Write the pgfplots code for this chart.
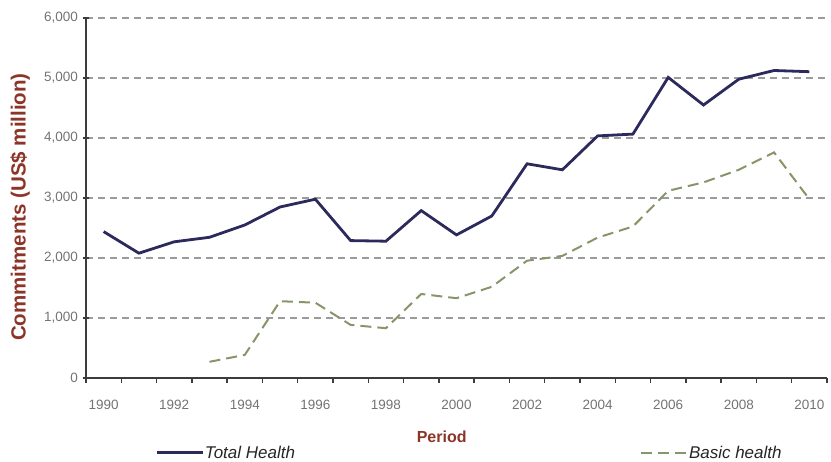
\documentclass[border=0pt]{standalone}
\usepackage{pgfplots}
\pgfplotsset{compat=1.18}
\usepackage{fontspec}
\setmainfont{Liberation Sans}

\definecolor{totalcol}{RGB}{44,42,92}
\definecolor{basiccol}{RGB}{135,150,105}
\definecolor{labelcol}{RGB}{140,52,40}
\definecolor{tickcol}{RGB}{115,115,115}
\definecolor{gridcol}{RGB}{155,155,155}
\definecolor{axiscol}{RGB}{60,60,60}

\begin{document}
\begin{tikzpicture}
\path[use as bounding box] (-86pt,-84pt) rectangle (745pt,378pt);
\begin{axis}[
  at={(0pt,0pt)}, anchor=south west,
  scale only axis, width=741pt, height=360pt,
  xmin=1989.5, xmax=2010.5, ymin=0, ymax=6000,
  axis x line*=bottom, axis y line*=left,
  axis line style={axiscol, line width=2pt},
  xtick={1990,1992,...,2010},
  minor xtick={1989.5,1990.5,...,2010.5},
  major x tick style={draw=none},
  minor x tick style={axiscol, line width=1.5pt},
  minor tick length=5pt,
  xtick align=outside,
  ytick={0,1000,...,6000},
  ytick align=center,
  major tick length=7pt,
  y tick style={axiscol, line width=1.5pt},
  ymajorgrids,
  grid style={gridcol, line width=1.6pt, dash pattern=on 7pt off 5pt},
  /pgf/number format/.cd, 1000 sep={,}, assume math mode=true, /pgfplots/.cd,
  xticklabel={\pgfmathprintnumber[1000 sep={}]{\tick}},
  tick label style={font=\fontsize{13.5}{16}\selectfont, text=tickcol},
  xticklabel style={yshift=-12pt},
  yticklabel style={xshift=-1pt},
  xlabel={Period},
  xlabel style={at={(rel axis cs:0.48,-0.164)}, anchor=center,
    font=\fontsize{16}{18}\selectfont\bfseries, text=labelcol},
  ylabel={Commitments (US\$ million)},
  ylabel style={at={(rel axis cs:-0.089,0.475)}, anchor=center,
    font=\fontsize{20.5}{23}\selectfont\bfseries, text=labelcol},
  legend columns=2,
  legend style={at={(rel axis cs:0.093,-0.208)}, anchor=west, draw=none,
    fill=none, inner sep=0pt,
    font=\fontsize{17}{20}\selectfont\itshape, text=black!85,
    nodes={inner sep=1pt},
    /tikz/every even column/.append style={column sep=344pt}},
  legend image code/.code={\draw[#1] (0pt,0pt) -- (46pt,0pt);},
]
\addplot[totalcol, line width=2.8pt] coordinates {
  (1990,2440) (1991,2080) (1992,2270) (1993,2345) (1994,2550)
  (1995,2850) (1996,2980) (1997,2290) (1998,2280) (1999,2790)
  (2000,2385) (2001,2700) (2002,3570) (2003,3470) (2004,4035)
  (2005,4065) (2006,5010) (2007,4550) (2008,4980) (2009,5125)
  (2010,5105)
};
\addlegendentry{Total Health}
\addplot[basiccol, line width=2pt, dash pattern=on 11pt off 6pt] coordinates {
  (1993,270) (1994,385) (1995,1280) (1996,1255) (1997,885)
  (1998,830) (1999,1400) (2000,1330) (2001,1520) (2002,1955)
  (2003,2035) (2004,2340) (2005,2525) (2006,3120) (2007,3260)
  (2008,3470) (2009,3760) (2010,2980)
};
\addlegendentry{Basic health}
\end{axis}
\end{tikzpicture}
\end{document}
